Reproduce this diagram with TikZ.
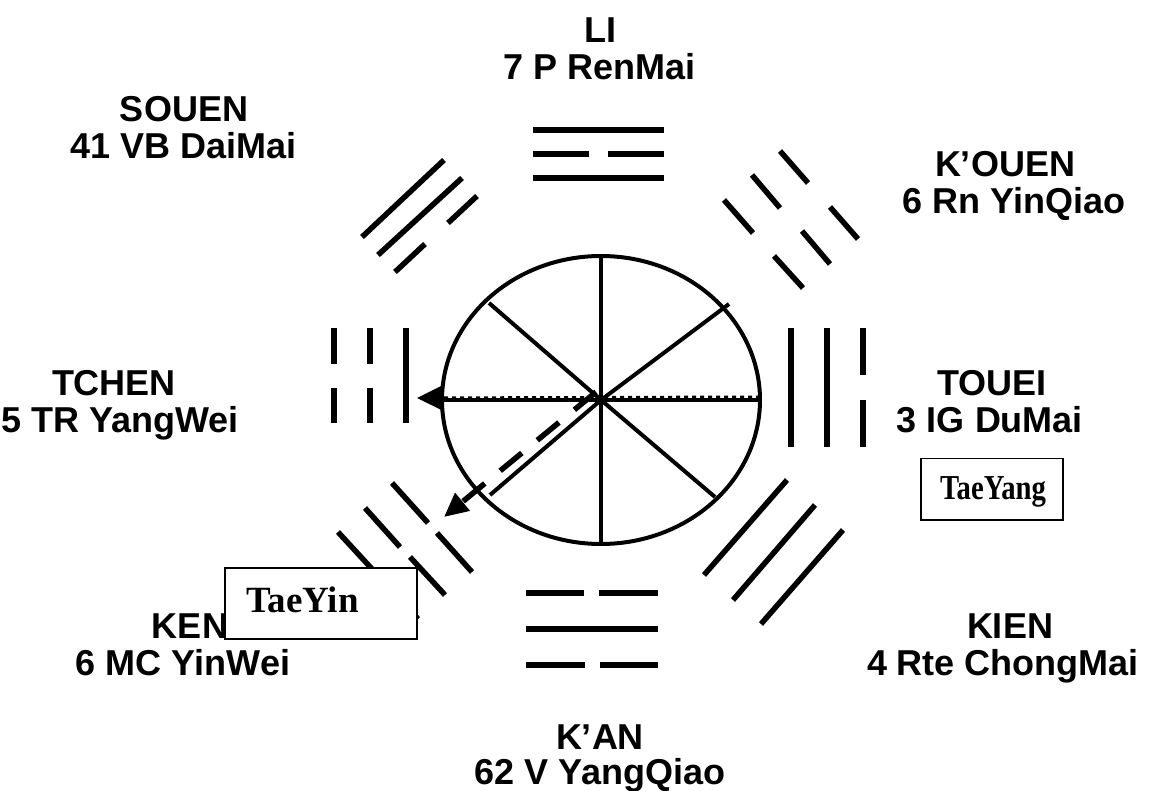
\documentclass[tikz,border=0pt]{standalone}
\usepackage{fontspec}
\setmainfont{Liberation Sans}
\newfontfamily\boxserif{Liberation Serif}
\usetikzlibrary{arrows.meta}
\begin{document}
\begin{tikzpicture}[x=1pt,y=-1pt,
  lbl/.style={font=\fontsize{36}{37}\selectfont\bfseries, anchor=base, inner sep=0pt},
  tri/.style={line width=5.5pt},
  wheel/.style={line width=4pt},
  tbox/.style={draw, line width=1.5pt, fill=white, anchor=north west, inner sep=0pt},
  btxt/.style={font=\boxserif\bfseries, anchor=base west, inner sep=0pt}]
\useasboundingbox (0,0) rectangle (1160,791);

% labels
\node[lbl] (li1) at (600,43) {LI};
\node[lbl] (li2) at (600,80) {7 P RenMai};
\node[lbl] (so1) at (184,122) {SOUEN};
\node[lbl] (so2) at (184,159) {41 VB DaiMai};
\node[lbl] (ko1) at (1005,177) {K’OUEN};
\node[lbl] (ko2) at (1014,214) {6 Rn YinQiao};
\node[lbl] (tc1) at (114,396) {TCHEN};
\node[lbl] (tc2) at (120,433) {5 TR YangWei};
\node[lbl] (to1) at (992,396) {TOUEI};
\node[lbl] (to2) at (990,433) {3 IG DuMai};
\node[lbl] (ke1) at (190,638) {KEN};
\node[lbl] (ke2) at (183,675) {6 MC YinWei};
\node[lbl] (ki1) at (1010,638) {KIEN};
\node[lbl] (ki2) at (1003,675) {4 Rte ChongMai};
\node[lbl] (ka1) at (600,749) {K’AN};
\node[lbl] (ka2) at (600,784) {62 V YangQiao};

% trigram LI (top)
\draw[tri] (533,130) -- (664,130);
\draw[tri] (533,154) -- (589,154) (608,154) -- (664,154);
\draw[tri] (533,178) -- (664,178);
% trigram K'AN (bottom)
\draw[tri] (526,593) -- (584,593) (599,593) -- (658,593);
\draw[tri] (526,629) -- (658,629);
\draw[tri] (526,665) -- (585,665) (600,665) -- (658,665);
% trigram TCHEN (left)
\draw[tri] (334,328) -- (334,364) (334,388) -- (334,423);
\draw[tri] (370,328) -- (370,364) (370,388) -- (370,423);
\draw[tri] (406,328) -- (406,423);
% trigram TOUEI (right)
\draw[tri] (791,328) -- (791,447);
\draw[tri] (827,328) -- (827,447);
\draw[tri] (863,328) -- (863,375) (863,400) -- (863,447);
% trigram SOUEN (top left)
\draw[tri] (362,237) -- (444,160);
\draw[tri] (378,255) -- (462,178);
\draw[tri] (395,272) -- (425,244) (448,223) -- (477,196);
% trigram K'OUEN (top right)
\draw[tri] (780,151) -- (808,183) (830,207) -- (858,239);
\draw[tri] (752,175) -- (780,208) (802,231) -- (830,264);
\draw[tri] (724,200) -- (753,233) (774,256) -- (803,288);
% trigram KIEN (bottom right)
\draw[tri] (704,575) -- (787,480);
\draw[tri] (733,600) -- (815,505);
\draw[tri] (761,624) -- (843,530);
% trigram KEN (bottom left)
\draw[tri] (338,532) -- (418,619);
\draw[tri] (365,508) -- (400,547) (410,557) -- (445,595);
\draw[tri] (392,483) -- (428,523) (437,533) -- (472,572);

% wheel
\coordinate (c) at (601,400);
\draw[wheel] (c) ellipse [x radius=159, y radius=144];
\draw[wheel] (601,256) -- (601,543);
\draw[wheel] (442,400) -- (760,400);
\draw[wheel] (489,303) -- (c) -- (715,497);
\draw[wheel] (729,304) -- (c) -- (490,495);

% arrows
\coordinate (hs) at (760,397);
\coordinate (he) at (417,398);
\draw[line width=3pt, dash pattern=on 4pt off 4pt,
      -{Triangle[length=26pt,width=25pt]}] (hs) -- (he);
\coordinate (ds) at (596,392);
\coordinate (de) at (444,517);
\draw[line width=5.5pt, dash pattern=on 28pt off 20pt,
      -{Triangle[length=24pt,width=22pt]}] (ds) -- (de);

% boxes
\node[tbox, minimum width=192pt, minimum height=71pt] (yinbox) at (224,567) {};
\node[btxt, font=\boxserif\bfseries\fontsize{37}{37}\selectfont] (yin) at (246,612) {TaeYin};
\node[tbox, minimum width=142pt, minimum height=61pt] (yangbox) at (920,458) {};
\node[btxt, font=\boxserif\bfseries\fontsize{35}{35}\selectfont] (yang) at (940,500) {\scalebox{0.82}[1]{TaeYang}};
\end{tikzpicture}
\end{document}
